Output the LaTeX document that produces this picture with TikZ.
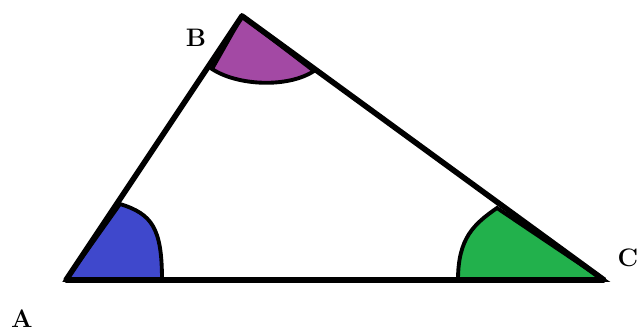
\documentclass[tikz,border=0pt]{standalone}
\usepackage{tikz}
\usetikzlibrary{positioning,calc}
\definecolor{angA}{HTML}{3F48CC}
\definecolor{angB}{HTML}{A349A4}
\definecolor{angC}{HTML}{22B14C}

\begin{document}
\begin{tikzpicture}[x=0.02cm, y=-0.02cm,
  side/.style={line width=3.2pt, line join=round, line cap=round},
  sector/.style={line width=2.2pt, fill=#1},
  lbl/.style={font=\Large\bfseries, inner sep=0pt}
]
  \useasboundingbox (0,0) rectangle (638,333);
  % vertices
  \coordinate (A) at (66,280);
  \coordinate (B) at (242,16);
  \coordinate (C) at (604,280);

  % angle sectors
  \draw[sector=angA] (A) -- (162,280) .. controls (162,228) and (152,214) .. (120,204) -- cycle;
  \draw[sector=angB] (B) -- (212,69) .. controls (238,86) and (288,88) .. (314,71) -- cycle;
  \draw[sector=angC] (C) -- (458,280) .. controls (458,238) and (474,224) .. (497,208) -- cycle;

  % triangle
  \draw[side] (A) -- (B) -- (C) -- cycle;

  % labels
  \node[lbl] (la) at (22,319) {A};
  \node[lbl] (lb) at (196,38) {B};
  \node[lbl] (lc) at (628,258) {C};
\end{tikzpicture}
\end{document}
